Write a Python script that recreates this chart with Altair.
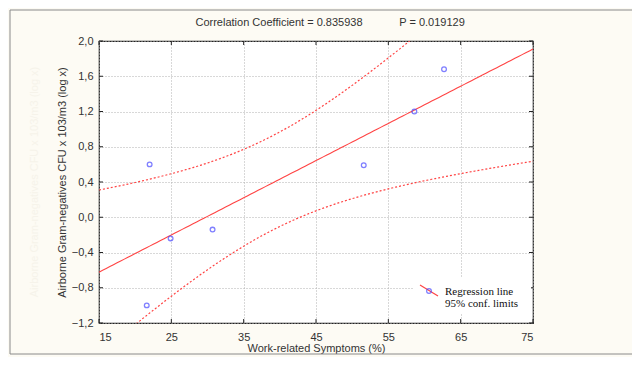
import altair as alt
import pandas as pd
import numpy as np

# ---- data ----
symptoms = [22.0, 24.9, 30.7, 21.6, 51.6, 58.6, 62.7]
gram_neg = [0.60, -0.24, -0.14, -1.00, 0.59, 1.20, 1.68]

x_ticks = [15, 25, 35, 45, 55, 65, 75]
y_ticks = [-1.2, -0.8, -0.4, 0.0, 0.4, 0.8, 1.2, 1.6, 2.0]
title_left = "Correlation Coefficient = 0.835938"
title_right = "P = 0.019129"
x_title = "Work-related Symptoms (%)"
y_title = "Airborne Gram-negatives CFU x 103/m3 (log x)"
legend_labels = ["Regression line", "95% conf. limits"]

# ---- regression and 95% confidence limits computed from the points ----
xa = np.array(symptoms)
ya = np.array(gram_neg)
n = len(xa)
slope, intercept = np.polyfit(xa, ya, 1)
resid = ya - (slope * xa + intercept)
s = np.sqrt(np.sum(resid ** 2) / (n - 2))
t975 = 2.5706  # Student t, 5 d.f.
sxx = np.sum((xa - xa.mean()) ** 2)
grid = np.linspace(15, 75, 121)
fit = slope * grid + intercept
half = t975 * s * np.sqrt(1.0 / n + (grid - xa.mean()) ** 2 / sxx)
fit_df = pd.DataFrame({"x": grid, "fit": fit, "lo": fit - half, "hi": fit + half})
pts = pd.DataFrame({"x": symptoms, "y": gram_neg})

W, H = 434, 282
FONT = "Liberation Sans"
xs = alt.Scale(domain=[15, 75], nice=False, zero=False)
ys = alt.Scale(domain=[-1.2, 2.0], nice=False, zero=False)

xaxis = alt.Axis(values=x_ticks, tickCount=30, title=x_title, grid=True, gridDash=[1, 2],
                 gridColor="#b0b0b0", tickSize=0, labelPadding=8, titlePadding=0, domain=False,
                 labelOverlap=False,
                 labelFont=FONT, labelFontSize=11, labelColor="#333", titleFont=FONT,
                 titleFontSize=11, titleFontWeight="normal", titleColor="#333")
yaxis = alt.Axis(values=y_ticks, tickCount=30, title=y_title, grid=True, gridDash=[1, 2],
                 gridColor="#b0b0b0", tickSize=0, labelPadding=6, titlePadding=4, domain=False,
                 labelOverlap=False,
                 labelExpr="replace(format(datum.value, '.1f'), '.', ',')",
                 labelFont=FONT, labelFontSize=11, labelColor="#333", titleFont=FONT,
                 titleFontSize=11, titleFontWeight="normal", titleColor="#333")

one = alt.Data(values=[{}])

frame = alt.Chart(one).mark_rect(fill=None, stroke="#8a8a8a", strokeWidth=1, clip=False).encode(
    x=alt.value(-89), x2=alt.value(560), y=alt.value(-31), y2=alt.value(313))

base = alt.Chart(fit_df)
reg = base.mark_line(color="#ff4444", strokeWidth=1.1).encode(
    x=alt.X("x:Q", scale=xs, axis=xaxis), y=alt.Y("fit:Q", scale=ys, axis=yaxis))
hi = base.mark_line(color="#ff4444", strokeWidth=1.2, strokeDash=[2, 2], clip=True).encode(
    x=alt.X("x:Q", scale=xs), y=alt.Y("hi:Q", scale=ys))
lo = base.mark_line(color="#ff4444", strokeWidth=1.2, strokeDash=[2, 2], clip=True).encode(
    x=alt.X("x:Q", scale=xs), y=alt.Y("lo:Q", scale=ys))

points = alt.Chart(pts).mark_point(shape="circle", filled=False, color="#4a4aff", size=22,
                                   strokeWidth=1.3).encode(
    x=alt.X("x:Q", scale=xs), y=alt.Y("y:Q", scale=ys))

# inward ticks on the frame
tick_df = pd.DataFrame({"t": x_ticks})
xt_bot = alt.Chart(tick_df).mark_rule(color="#222").encode(
    x=alt.X("t:Q", scale=xs), y=alt.value(H), y2=alt.value(H - 4))
xt_top = alt.Chart(tick_df).mark_rule(color="#222").encode(
    x=alt.X("t:Q", scale=xs), y=alt.value(0), y2=alt.value(4))
ytick_df = pd.DataFrame({"t": y_ticks})
yt_l = alt.Chart(ytick_df).mark_rule(color="#222").encode(
    y=alt.Y("t:Q", scale=ys), x=alt.value(0), x2=alt.value(4))
yt_r = alt.Chart(ytick_df).mark_rule(color="#222").encode(
    y=alt.Y("t:Q", scale=ys), x=alt.value(W), x2=alt.value(W - 4))

# titles
t1 = alt.Chart(one).mark_text(font=FONT, fontSize=11, color="#333", align="center").encode(
    x=alt.value(180), y=alt.value(-18), text=alt.value(title_left))
t2 = alt.Chart(one).mark_text(font=FONT, fontSize=11, color="#333", align="center").encode(
    x=alt.value(333), y=alt.value(-18), text=alt.value(title_right))
ghost = alt.Chart(one).mark_text(font=FONT, fontSize=11, color="#f6f3ea", angle=270,
                                 align="center").encode(
    x=alt.value(-64), y=alt.value(141), text=alt.value(y_title))

# legend
leg_bg = alt.Chart(one).mark_rect(fill="white").encode(
    x=alt.value(315), x2=alt.value(432), y=alt.value(236), y2=alt.value(272))
leg_line = alt.Chart(one).mark_rule(color="#ff4444", strokeWidth=1.2).encode(
    x=alt.value(321), x2=alt.value(339), y=alt.value(244), y2=alt.value(255))
leg_pt = alt.Chart(one).mark_point(shape="circle", filled=False, color="#4a4aff", size=22,
                                   strokeWidth=1.3).encode(x=alt.value(330), y=alt.value(250))
leg_txt1 = alt.Chart(one).mark_text(font="Liberation Serif", fontSize=11, color="#111",
                                    align="left", baseline="middle").encode(
    x=alt.value(346), y=alt.value(251), text=alt.value(legend_labels[0]))
leg_txt2 = alt.Chart(one).mark_text(font="Liberation Serif", fontSize=11, color="#111",
                                    align="left", baseline="middle").encode(
    x=alt.value(346), y=alt.value(263), text=alt.value(legend_labels[1]))

chart = alt.layer(
    frame, reg, hi, lo, points, xt_bot, xt_top, yt_l, yt_r, t1, t2, ghost,
    leg_bg, leg_line, leg_pt, leg_txt1, leg_txt2
).properties(
    width=W, height=H,
    autosize=alt.AutoSizeParams(type="none"),
    padding={"left": 91, "top": 33, "right": 99, "bottom": 34},
    background="#fdfbf4",
).configure_view(
    fill="white", stroke="#222", strokeWidth=1.2
)

chart.save("out.html", embed_options={"renderer": "svg", "actions": False})
